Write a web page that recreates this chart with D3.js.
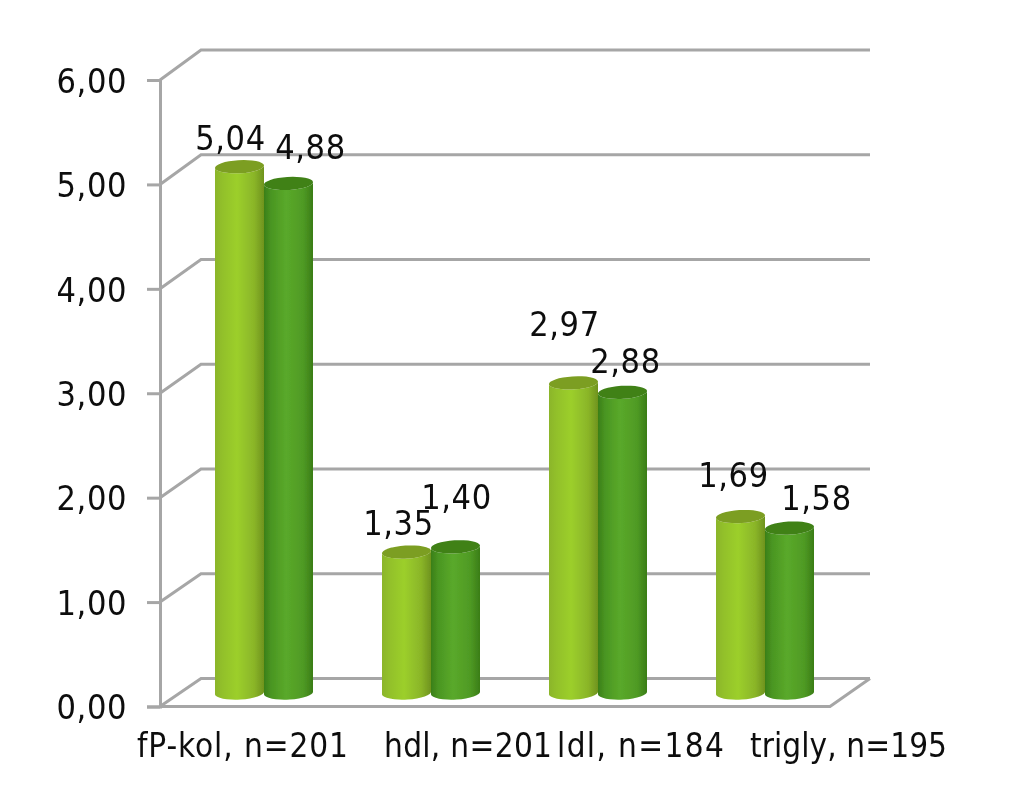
<!DOCTYPE html>
<html><head><meta charset="utf-8">
<script src="https://cdn.jsdelivr.net/npm/d3@7/dist/d3.min.js"></script>
<style>html,body{margin:0;background:#fff}svg{display:block}
text{font-family:"DejaVu Sans Condensed","DejaVu Sans",sans-serif;font-stretch:condensed;fill:#111}</style>
</head><body><svg id="c" width="1024" height="789"></svg>
<script>
const categories = ["fP-kol, n=201","hdl, n=201","ldl, n=184","trigly, n=195"];
const series1 = [5.04,1.35,2.97,1.69];
const series2 = [4.88,1.40,2.88,1.58];
const yTicks = [0,1,2,3,4,5,6];
const fmt = v => v.toFixed(2).replace(".",",");

// layout
const fontSize = 34, catFont = 33;
const depthX = 41;
const floorInset = 13.5;
const rx = 24.5, ry = 6.5, tilt = 1.5;
const labelNudge = [[[-9,-17],[22,-24]],[[-8,-17],[1,-38]],[[-9,-47],[3,-19]],[[-7,-30],[27,-18]]];
const catLabelX = [137,384,557,750];
const catLabelW = [211,168,167,197];

const svg = d3.select("#c");
const y = d3.scaleLinear().domain([0,6]).range([706.5,80]);
const yBack = d3.scaleLinear().domain([0,6]).range([678.5,50]);
const x = d3.scaleBand().domain(categories).range([180.5,848.5]);
const xs = d3.scaleBand().domain([0,1]).range([-49,49]);
const grey = "#a6a6a6";

const defs = svg.append("defs");
function grad(id, stops){
  const g = defs.append("linearGradient").attr("id",id).attr("x1",0).attr("x2",1).attr("y1",0).attr("y2",0);
  stops.forEach(s=>g.append("stop").attr("offset",s[0]).attr("stop-color",s[1]));
}
grad("g1",[[0,"#8bb52a"],[0.15,"#92c02a"],[0.45,"#9ccf2c"],[0.8,"#8ab528"],[1,"#6f931e"]]);
grad("g2",[[0,"#3a7f18"],[0.15,"#4a9622"],[0.45,"#5aa92a"],[0.8,"#4f9a24"],[1,"#3a7d17"]]);
const g3 = defs.append("filter").attr("id","soft").attr("x","-2%").attr("y","-2%").attr("width","104%").attr("height","104%");
g3.append("feGaussianBlur").attr("stdDeviation",0.5);

const root = svg.append("g").attr("filter","url(#soft)");
const gl = root.append("g").attr("fill","none").attr("stroke",grey).attr("stroke-width",3);

// back wall gridlines and side wall diagonals
yTicks.forEach(t=>{
  gl.append("path").attr("d",`M160,${y(t)}L${160+depthX},${yBack(t)}L870,${yBack(t)}`);
});
// floor
gl.append("path").attr("d",`M160,${y(0)}L830,${y(0)}L870,${yBack(0)}`);

// axis
const axis = d3.axisLeft(y).tickValues(yTicks).tickFormat(fmt).tickSize(13).tickPadding(20);
const ag = root.append("g").attr("transform","translate(160,0)").call(axis);
ag.select(".domain").attr("stroke",grey).attr("stroke-width",3);
ag.selectAll(".tick line").attr("stroke",grey).attr("stroke-width",3);
ag.selectAll(".tick text").attr("font-size",fontSize).attr("letter-spacing",0.6).attr("dy","0.36em");
ag.attr("font-family",null).attr("font-size",null);

// cylinders
function cyl(cx,v){
  const b = y(0)-floorInset, t = y(v)-floorInset;
  const L = cx-rx, R = cx+rx;
  return {
    body:`M${L},${t+tilt}L${L},${b+tilt}A${rx},${ry} -3 0 0 ${R},${b-tilt}L${R},${t-tilt}A${rx},${ry} -3 0 1 ${L},${t+tilt}Z`,
    top:`M${L},${t+tilt}A${rx},${ry} -3 0 1 ${R},${t-tilt}A${rx},${ry} -3 0 1 ${L},${t+tilt}Z`
  };
}
const center = (i,si) => x(categories[i])+x.bandwidth()/2+xs(si)+xs.bandwidth()/2;
[[series1,"g1","#7c9e20"],[series2,"g2","#3f8119"]].forEach((s,si)=>{
  const g = root.append("g");
  g.selectAll("path.b").data(s[0]).join("path").attr("class","b")
    .attr("d",(d,i)=>cyl(center(i,si),d).body)
    .attr("fill",`url(#${s[1]})`);
  g.selectAll("path.t").data(s[0]).join("path").attr("class","t")
    .attr("d",(d,i)=>cyl(center(i,si),d).top)
    .attr("fill",s[2]);
});
// data labels
[series1,series2].forEach((s,si)=>{
  root.append("g").selectAll("text").data(s).join("text")
    .attr("text-anchor","middle").attr("font-size",fontSize).attr("letter-spacing",0.6)
    .attr("x",(d,i)=>center(i,si)+labelNudge[i][si][0])
    .attr("y",(d,i)=>y(d)-floorInset+labelNudge[i][si][1])
    .text(fmt);
});
// category labels
root.append("g").selectAll("text").data(categories).join("text")
  .attr("font-size",catFont)
  .attr("x",(d,i)=>catLabelX[i]).attr("y",757)
  .attr("textLength",(d,i)=>catLabelW[i]).attr("lengthAdjust","spacing")
  .text(d=>d);
</script></body></html>
